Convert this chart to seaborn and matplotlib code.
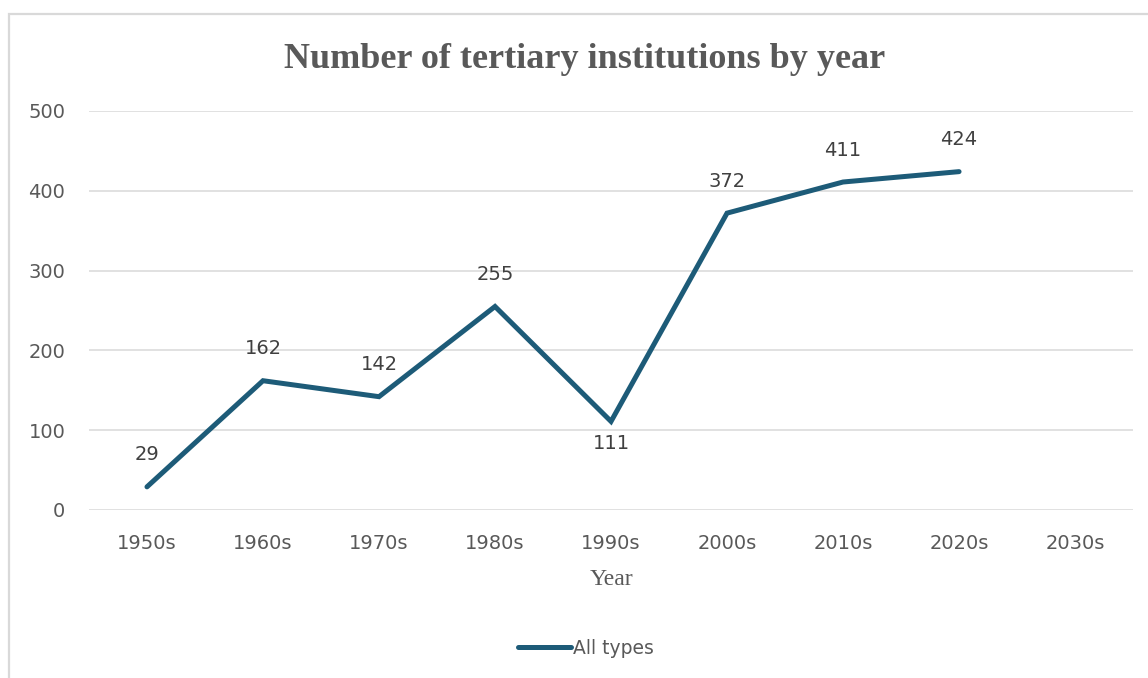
import matplotlib
matplotlib.use("Agg")
import matplotlib.pyplot as plt
import matplotlib.patches as mpatches
import seaborn as sns
import pandas as pd

# Decade categories shown on the x axis (the last one has no value yet)
decades = ["1950s", "1960s", "1970s", "1980s", "1990s", "2000s", "2010s", "2020s", "2030s"]
# Number of tertiary institutions per decade
institutions = [29, 162, 142, 255, 111, 372, 411, 424]
series_name = "All types"

LINE_COLOR = "#1d5b78"
GRID_COLOR = "#d9d9d9"
TICK_COLOR = "#595959"
LABEL_COLOR = "#404040"
SERIF = ["Liberation Serif", "DejaVu Serif"]

sns.set_theme(style="white")
plt.rcParams["font.family"] = ["DejaVu Sans"]

df = pd.DataFrame({
    "Decade": decades[:len(institutions)],
    "Count": institutions,
    "Series": series_name,
})

fig = plt.figure(figsize=(11.48, 6.78), dpi=100)
ax = fig.add_axes([0.0775, 0.2478, 0.9095, 0.5885])

sns.lineplot(data=df, x="Decade", y="Count", hue="Series",
             palette=[LINE_COLOR], linewidth=3.6, ax=ax,
             solid_capstyle="round", solid_joinstyle="miter", sort=False)

ax.set_xticks(range(len(decades)))
ax.set_xticklabels(decades)
ax.set_xlim(-0.5, len(decades) - 0.5)
ax.set_ylim(0, 500)
ax.set_yticks([0, 100, 200, 300, 400, 500])

ax.yaxis.grid(True, color=GRID_COLOR, linewidth=1.1)
ax.xaxis.grid(False)
ax.set_axisbelow(True)
for s in ax.spines.values():
    s.set_visible(False)
ax.tick_params(axis="both", length=0, labelsize=14, colors=TICK_COLOR)
ax.tick_params(axis="x", pad=17)
ax.tick_params(axis="y", pad=17)

# Value labels: above each point, except the 1990s dip which sits below
for i, v in enumerate(institutions):
    below = decades[i] == "1990s"
    ax.annotate(str(v), (i, v), xytext=(0, -16 if below else 23),
                textcoords="offset points", ha="center", va="center",
                fontsize=14, color=LABEL_COLOR)

ax.set_xlabel("Year", family=SERIF, fontsize=17, color=TICK_COLOR, labelpad=12)
ax.set_ylabel("")

fig.text(0.509, 0.912, "Number of tertiary institutions by year",
         ha="center", va="center", family=SERIF,
         fontsize=26, fontweight="bold", color=TICK_COLOR)

leg = ax.get_legend()
if leg is not None:
    leg.remove()
handles = [plt.Line2D([0], [0], color=LINE_COLOR, linewidth=3.6, solid_capstyle="round")]
fig.legend(handles, [series_name], loc="center", bbox_to_anchor=(0.5105, 0.044),
           frameon=False, fontsize=13.5, handlelength=2.8, handletextpad=0.1,
           labelcolor=TICK_COLOR)

# Chart frame
fig.patches.append(mpatches.Rectangle((0.0078, -0.1), 1.5, 0.979 + 0.1,
                                      transform=fig.transFigure, fill=False,
                                      edgecolor=GRID_COLOR, linewidth=1.6))

fig.savefig("out.png", dpi=100)
